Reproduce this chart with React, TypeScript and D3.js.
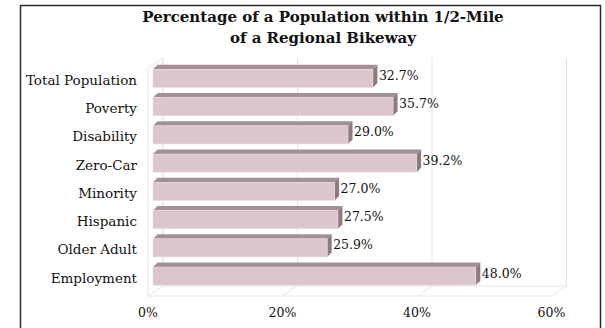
import React from "react";
import * as d3 from "d3";

const categories = [
  "Total Population",
  "Poverty",
  "Disability",
  "Zero-Car",
  "Minority",
  "Hispanic",
  "Older Adult",
  "Employment",
];
const values = [32.7, 35.7, 29.0, 39.2, 27.0, 27.5, 25.9, 48.0];
const tickValues = [0, 20, 40, 60];
const titleLines = ["Percentage of a Population within 1/2-Mile", "of a Regional Bikeway"];

const W = 605;
const H = 328;
const FONT = "'DejaVu Serif', serif";

export default function App() {
  const xFront = d3.scaleLinear().domain([0, 60]).range([148, 551.5]);
  const barDx = 5;
  const backDx = 15;
  const backDy = -10;
  const floorY = 296;
  const wallTopFront = 68;
  const y = d3
    .scaleBand<string>()
    .domain(categories)
    .range([62, 288])
    .paddingInner(0.2)
    .paddingOuter(0.1);
  const depth = 4.5;

  const gridColor = "#e4e4e4";

  return (
    <svg
      width={W}
      height={H}
      style={{ position: "absolute", left: 0, top: 0, background: "#fff" }}
      fontFamily={FONT}
    >
      <rect x={0} y={0} width={W} height={H} fill="#fff" />
      <rect x={20.5} y={5.5} width={580} height={340} fill="none" stroke="#2a2a2a" strokeWidth={1.5} />

      {titleLines.map((t, i) => (
        <text
          key={i}
          x={323}
          y={18 + i * 20.5}
          textAnchor="middle"
          dominantBaseline="middle"
          fontWeight="bold"
          fontSize={15}
          fill="#111"
        >
          {t}
        </text>
      ))}

      <path
        d={`M${xFront(0)},${floorY} L${xFront(0)},${wallTopFront} L${xFront(0) + backDx},${wallTopFront + backDy} L${xFront(0) + backDx},${floorY + backDy}`}
        fill="none"
        stroke={gridColor}
      />
      {tickValues.map((t) => (
        <line
          key={"bg" + t}
          x1={xFront(t) + backDx}
          x2={xFront(t) + backDx}
          y1={floorY + backDy}
          y2={wallTopFront + backDy}
          stroke={gridColor}
        />
      ))}
      <line x1={xFront(0)} x2={xFront(60)} y1={floorY} y2={floorY} stroke={gridColor} />
      <line
        x1={xFront(0) + backDx}
        x2={xFront(60) + backDx}
        y1={floorY + backDy}
        y2={floorY + backDy}
        stroke={gridColor}
      />
      {tickValues.map((t) => (
        <line
          key={"fd" + t}
          x1={xFront(t)}
          x2={xFront(t) + backDx}
          y1={floorY}
          y2={floorY + backDy}
          stroke={gridColor}
        />
      ))}

      {categories.map((c, i) => {
        const x0 = xFront(0) + barDx;
        const x1 = xFront(values[i]) + barDx;
        const yt = (y(c) as number) + depth;
        const yb = (y(c) as number) + y.bandwidth();
        return (
          <g key={c}>
            <path
              d={`M${x0},${yt} L${x0 + depth},${yt - depth} L${x1 + depth},${yt - depth} L${x1},${yt} Z`}
              fill="#a48f95"
            />
            <path
              d={`M${x1},${yt} L${x1 + depth},${yt - depth} L${x1 + depth},${yb - depth} L${x1},${yb} Z`}
              fill="#8e7a80"
            />
            <rect x={x0} y={yt} width={x1 - x0} height={yb - yt} fill="#dbc6cb" stroke="#eadde0" strokeWidth={0.6} />
            <text
              x={x1 + depth + 1.5}
              y={(yt + yb) / 2 - 2}
              dominantBaseline="middle"
              fontSize={12.5}
              fill="#111"
            >
              {values[i].toFixed(1) + "%"}
            </text>
            <text
              x={137}
              y={(yt + yb) / 2 + 3}
              textAnchor="end"
              dominantBaseline="middle"
              fontSize={13.5}
              fill="#111"
            >
              {c}
            </text>
          </g>
        );
      })}

      {tickValues.map((t) => (
        <text
          key={"xl" + t}
          x={xFront(t)}
          y={313}
          textAnchor="middle"
          dominantBaseline="middle"
          fontSize={12.5}
          fill="#111"
        >
          {t + "%"}
        </text>
      ))}
    </svg>
  );
}
